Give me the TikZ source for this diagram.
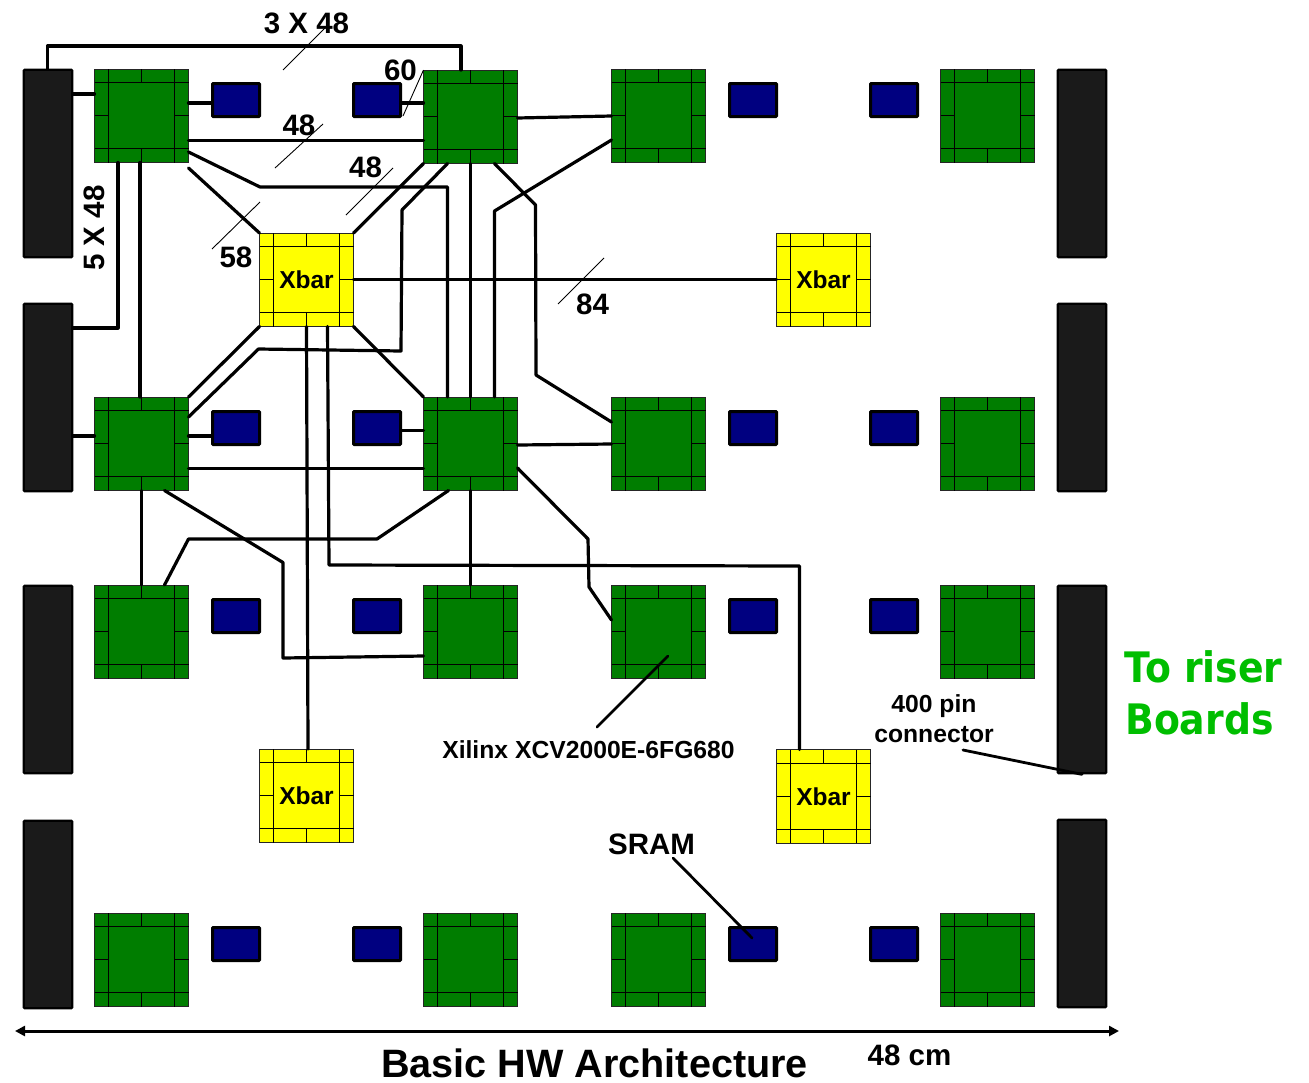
\documentclass[tikz,border=0pt]{standalone}
\usepackage{fontspec}
\setmainfont{Liberation Sans}
\newfontfamily\riserfont[FakeStretch=0.9]{DejaVu Sans}
\usetikzlibrary{arrows.meta}
\definecolor{chipgreen}{RGB}{0,125,0}
\definecolor{chipyellow}{RGB}{255,255,0}
\definecolor{srambblue}{RGB}{0,0,128}
\definecolor{connblack}{RGB}{26,26,26}
\definecolor{risergreen}{RGB}{0,190,0}
\tikzset{
  chipbase/.style={draw=black!85,line width=0.9pt,minimum width=94pt,minimum height=93.5pt,inner sep=0pt,outer sep=0pt},
  fpga/.style={chipbase,fill=chipgreen},
  xbar/.style={chipbase,fill=chipyellow,font=\bfseries\fontsize{24.5}{26}\selectfont},
  grid line/.style={draw=black,line width=0.9pt},
  sram/.style={draw=black,line width=3pt,rounded corners=0.8pt,fill=srambblue,minimum width=47pt,minimum height=33pt,inner sep=0pt,outer sep=1.5pt},
  conn/.style={draw=black,line width=2.2pt,rounded corners=1pt,fill=connblack,minimum width=48.5pt,minimum height=187.5pt,inner sep=0pt,outer sep=1.1pt},
  wire/.style={draw=black,line width=3.2pt,line cap=round,line join=round},
  slash/.style={draw=black,line width=0.9pt},
  lab/.style={inner sep=0pt,anchor=base,text=black,font=\bfseries\fontsize{29.5}{31}\selectfont},
  smalllab/.style={lab,font=\bfseries\fontsize{24.7}{26}\selectfont},
  risertext/.style={lab,anchor=base west,text=risergreen,font=\riserfont\bfseries\fontsize{42}{46}\selectfont},
  titletext/.style={lab,font=\bfseries\fontsize{39.6}{41}\selectfont}
}
\newcommand{\chipgrid}[1]{%
  \begin{scope}[shift={(#1.center)}]
    \draw[grid line] (-47,-33)--(47,-33) (-47,33)--(47,33) (-33,-46.75)--(-33,46.75) (33,-46.75)--(33,46.75)
      (0,-46.75)--(0,-33) (0,33)--(0,46.75) (-47,0)--(-33,0) (33,0)--(47,0);
  \end{scope}}
\newcommand{\fpgachip}[3]{\node[fpga] (#1) at (#2,#3) {}; \chipgrid{#1}}
\newcommand{\xbarchip}[3]{\node[xbar] (#1) at (#2,#3) {Xbar}; \chipgrid{#1}}
\begin{document}
\begin{tikzpicture}[x=1pt,y=-1pt]
\useasboundingbox (0,0) rectangle (1309,1082);
% connectors
\node[conn] (L1) at (48,163.5) {};
\node[conn] (L2) at (48,397.5) {};
\node[conn] (L3) at (48,679.5) {};
\node[conn] (L4) at (48,914.5) {};
\node[conn] (R1) at (1082,163.5) {};
\node[conn] (R2) at (1082,397.5) {};
\node[conn] (R3) at (1082,679.5) {};
\node[conn] (R4) at (1082,913.5) {};
% FPGAs
\fpgachip{a1}{141.5}{115.75}
\fpgachip{b1}{470.5}{116.75}
\fpgachip{c1}{658.5}{115.75}
\fpgachip{d1}{987.5}{115.75}
\fpgachip{a2}{141.5}{443.75}
\fpgachip{b2}{470.5}{443.75}
\fpgachip{c2}{658.5}{443.75}
\fpgachip{d2}{987.5}{443.75}
\fpgachip{a3}{141.5}{631.75}
\fpgachip{b3}{470.5}{631.75}
\fpgachip{c3}{658.5}{631.75}
\fpgachip{d3}{987.5}{631.75}
\fpgachip{a4}{141.5}{959.75}
\fpgachip{b4}{470.5}{959.75}
\fpgachip{c4}{658.5}{959.75}
\fpgachip{d4}{987.5}{959.75}
% crossbars
\xbarchip{x1}{306.5}{279.75}
\xbarchip{x2}{823.5}{279.75}
\xbarchip{x3}{306.5}{795.75}
\xbarchip{x4}{823.5}{796.25}
% SRAMs
\foreach \r/\yy in {1/100,2/428,3/616,4/944}{
  \node[sram] (s\r a) at (236,\yy) {};
  \node[sram] (s\r b) at (377,\yy) {};
  \node[sram] (s\r c) at (753,\yy) {};
  \node[sram] (s\r d) at (894,\yy) {};
}
% wires
\draw[wire] (L1.north -| 47.5,0) -- (47.5,46) -- (461,46) -- (b1.north -| 461,0);
\draw[wire] (L1.east |- 0,94) -- (a1.west |- 0,94);
\draw[wire] (a1.east |- 0,103) -- (s1a.west |- 0,103);
\draw[wire] (s1b.east |- 0,103) -- (b1.west |- 0,103);
\draw[wire] (a1.east |- 0,140.5) -- (b1.west |- 0,140.5);
\draw[wire] (a1.east |- 0,152) -- (260,187) -- (447.5,187) -- (b2.north -| 447.5,0);
\draw[wire] (a1.east |- 0,168) -- (x1.north west);
\draw[wire] (x1.north east) -- (b1.south west);
\draw[wire] (b1.south -| 447.5,0) -- (402,210) -- (401,351) -- (258.5,349) -- (a2.east |- 0,417);
\draw[wire] (b1.south) -- (b2.north);
\draw[wire] (b1.south -| 494.5,0) -- (535.5,205) -- (536,375) -- (c2.west |- 0,422);
\draw[wire] (c1.west |- 0,140) -- (494.5,211) -- (b2.north -| 494.5,0);
\draw[wire] (b1.east |- 0,118) -- (c1.west |- 0,116);
\draw[wire] (x1.east) -- (x2.west);
\draw[wire] (L2.east |- 0,328) -- (118,328) -- (a1.south -| 118,0);
\draw[wire] (a1.south -| 140,0) -- (a2.north -| 140,0);
\draw[wire] (a2.north east) -- (x1.south west);
\draw[wire] (x1.south east) -- (b2.north west);
\draw[wire] (x1.south) -- (x3.north -| 308,0);
\draw[wire] (x1.south -| 327.5,0) -- (329,565) -- (799.5,566) -- (x4.north -| 799.5,0);
\draw[wire] (L2.east |- 0,436) -- (a2.west |- 0,436);
\draw[wire] (a2.east |- 0,436) -- (s2a.west |- 0,436);
\draw[wire] (s2b.east |- 0,430.5) -- (b2.west |- 0,430.5);
\draw[wire] (a2.east |- 0,468.5) -- (b2.west |- 0,468.5);
\draw[wire] (b2.east |- 0,445) -- (c2.west |- 0,444);
\draw[wire] (b2.east |- 0,468) -- (588,539) -- (589,587) -- (c3.west |- 0,620);
\draw[wire] (a2.south) -- (a3.north);
\draw[wire] (a2.south -| 164.5,0) -- (283,562.5) -- (283,658) -- (b3.west |- 0,656);
\draw[wire] (a3.north -| 164.5,0) -- (188.5,539) -- (377,539) -- (b2.south -| 448.5,0);
\draw[wire] (b2.south) -- (b3.north);
% leader lines
\coordinate (xilinxtail) at (597,727);
\coordinate (xilinxhead) at (668,656);
\coordinate (sramtail) at (673,858);
\coordinate (sramhead) at (752,938);
\coordinate (pintail) at (963,750);
\draw[wire,line width=2.8pt] (xilinxtail) -- (xilinxhead);
\draw[wire,line width=2.8pt] (sramtail) -- (sramhead);
\draw[wire,line width=2.8pt] (pintail) -- (R3.south);
% bus slashes
\coordinate (k1a) at (283,70); \coordinate (k1b) at (325,28);
\coordinate (k2a) at (275,168); \coordinate (k2b) at (323,124);
\coordinate (k3a) at (346,215); \coordinate (k3b) at (393,168);
\coordinate (k4a) at (212,249); \coordinate (k4b) at (260,202);
\coordinate (k5a) at (558,304); \coordinate (k5b) at (604,258);
\coordinate (k6a) at (403,116);
\draw[slash] (k1a)--(k1b);
\draw[slash] (k2a)--(k2b);
\draw[slash] (k3a)--(k3b);
\draw[slash] (k4a)--(k4b);
\draw[slash] (k5a)--(k5b);
\draw[slash] (k6a)--(b1.north west);
% dimension arrow
\coordinate (dimL) at (15,1031);
\coordinate (dimR) at (1119,1031);
\draw[black,line width=3pt,{Triangle[length=10pt,width=10pt]}-{Triangle[length=10pt,width=10pt]}] (dimL) -- (dimR);
% labels
\node[lab] (t3x) at (306.5,33) {3 X 48};
\node[lab] (t60) at (400.5,80) {60};
\node[lab] (t48a) at (299,135) {48};
\node[lab] (t48b) at (365.5,177) {48};
\node[lab] (t58) at (236,267) {58};
\node[lab] (t84) at (592.5,314) {84};
\node[lab,rotate=90] (t5x) at (104,228) {5 X 48};
\node[smalllab] (tx) at (588.5,758) {Xilinx XCV2000E-6FG680};
\node[smalllab] (tp1) at (934,712) {400 pin};
\node[smalllab] (tp2) at (934,742) {connector};
\node[lab] (ts) at (651.5,854) {SRAM};
\node[risertext] (tr1) at (1124,682) {To riser};
\node[risertext] (tr2) at (1125,734) {Boards};
\node[titletext] (tt) at (594.5,1077.5) {Basic HW Architecture};
\node[lab] (tc) at (909.5,1065) {48 cm};
\end{tikzpicture}
\end{document}
